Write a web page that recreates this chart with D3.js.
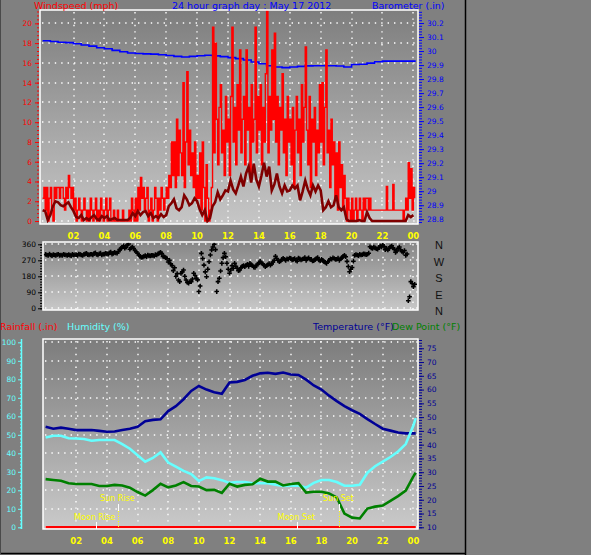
<!DOCTYPE html>
<html>
<head>
<meta charset="utf-8">
<script src="https://cdn.jsdelivr.net/npm/d3@7"></script>
<style>
  body { margin: 0; background: #808080; }
  svg { display: block; font-family: "DejaVu Sans", "Liberation Sans", Arial, sans-serif; }
</style>
</head>
<body>
<div class="chart"></div>
<script>
// Weather station 24 hour graph: wind, direction, temperature / humidity

// hour axis
var hourTicks = [2, 4, 6, 8, 10, 12, 14, 16, 18, 20, 22, 24];
var hourLabels = ["02", "04", "06", "08", "10", "12", "14", "16", "18", "20", "22", "00"];

// Wind gust (mph), one reading every 5 minutes from 00:00
var gustStep = 5 / 60;
var windGust = [
  2.3, 3.4, 1.1, 3.4, 0, 2.3, 3.4, 1.1, 0, 3.4, 2.3, 3.4,
  3.4, 2.3, 3.4, 3.4, 2.3, 1.1, 3.4, 2.3, 4.6, 3.4, 2.3, 3.4,
  1.1, 2.3, 0, 1.1, 2.3, 1.1, 0, 1.1, 2.3, 1.1, 0, 1.1,
  0, 2.3, 1.1, 0, 1.1, 2.3, 0, 1.1, 0, 2.3, 1.1, 0,
  1.1, 2.3, 0, 1.1, 2.3, 0, 0, 1.1, 0, 0, 1.1, 0,
  0, 0, 1.1, 0, 0, 0, 0, 1.1, 0, 2.3, 1.1, 0,
  2.3, 0, 3.4, 1.1, 4.4, 2.3, 3.4, 1.1, 2.3, 3.4, 0, 1.1,
  2.3, 0, 1.1, 3.4, 2.3, 0, 2.3, 1.1, 3.4, 2.3, 1.1, 2.3,
  3.4, 2.3, 4.6, 3.4, 8.0, 4.6, 8.0, 3.4, 10.3, 4.6, 9.2, 6.9,
  4.6, 14.0, 3.4, 8.0, 15.1, 5.7, 9.2, 4.6, 6.9, 3.4, 8.0, 2.3,
  4.6, 2.3, 6.9, 1.1, 8.0, 3.4, 0, 5.7, 2.3, 0, 1.1, 3.4,
  19.6, 6.9, 18.0, 10.3, 5.7, 11.5, 13.8, 6.9, 9.2, 4.6, 12.6, 8.0,
  10.3, 4.6, 12.6, 19.6, 8.0, 11.5, 5.7, 13.8, 9.2, 17.3, 6.9, 10.3,
  12.6, 5.7, 17.3, 9.2, 11.5, 4.6, 13.8, 8.0, 10.3, 19.6, 6.9, 12.6,
  9.2, 13.8, 5.7, 11.5, 8.0, 14.9, 21.3, 6.9, 12.6, 9.2, 17.3, 10.3,
  19.0, 8.0, 12.6, 5.7, 11.5, 9.2, 14.9, 6.9, 10.3, 4.6, 12.6, 8.0,
  10.3, 5.7, 11.5, 3.4, 9.2, 12.6, 6.9, 10.3, 4.6, 13.8, 8.0, 11.5,
  17.6, 9.2, 5.7, 12.6, 3.4, 10.3, 8.0, 11.5, 4.6, 9.2, 6.9, 13.8,
  8.0, 14.0, 5.7, 11.5, 17.3, 6.9, 9.2, 3.4, 10.3, 5.7, 8.0, 2.3,
  6.9, 1.1, 8.0, 3.4, 5.7, 1.1, 4.6, 2.3, 0, 2.3, 1.1, 0,
  2.3, 0, 1.1, 2.3, 0, 1.1, 2.3, 1.1, 0, 2.3, 1.1, 2.3,
  2.3, 1.1, 2.3, 1.1, 1.1, 1.1, 1.1, 1.1, 1.1, 1.1, 1.1, 1.1,
  1.1, 1.1, 1.1, 3.5, 1.1, 1.1, 1.1, 1.1, 3.7, 1.1, 1.1, 1.1,
  1.1, 1.1, 1.1, 1.1, 0, 1.1, 2.3, 1.1, 5.9, 2.3, 5.3, 1.1,
  3.4, 2.3
];

// Average wind speed (mph), every 10 minutes
var avgStep = 10 / 60;
var windAvg = [
  1.1, 1.0, 0.1, 0.6, 1.5, 2.0,
  1.9, 1.6, 1.5, 1.7, 1.9, 1.4,
  1.0, 0.4, 0.3, 0.6, 0.1, 0.3,
  0.1, 0.4, 0.6, 0.2, 0.1, 0.5,
  0.3, 0.5, 0.1, 0.2, 0.3, 0.1,
  0.1, 0.1, 0.1, 0.1, 0.3, 0.8,
  0.5, 1.0, 0.6, 0.9, 1.0, 0.5,
  0.8, 0.3, 0.5, 0.3, 0.7, 0.4,
  0.6, 1.5, 1.8, 2.2, 1.3, 1.1,
  1.4, 2.6, 2.2, 1.6, 1.8, 2.3,
  2.0, 1.2, 0.6, 1.1, 0.0, 0.3,
  1.5, 1.9, 2.9, 2.2, 2.6, 3.1,
  3.0, 4.1, 3.2, 2.8, 3.6, 4.5,
  3.5, 4.8, 5.5, 3.9, 5.8, 4.2,
  3.5, 4.6, 5.9, 4.5, 5.5, 3.1,
  3.7, 4.8, 3.5, 2.8, 3.6, 3.0,
  3.1, 3.6, 3.3, 3.6, 2.1, 3.0,
  4.1, 3.2, 2.6, 3.6, 3.0, 3.6,
  3.1, 1.1, 1.4, 2.0, 1.4, 1.6,
  2.6, 1.4, 1.1, 1.4, 0.2, 0.0,
  0.0, 0.0, 0.0, 0.1, 0.0, 0.0,
  0.9, 0.3, 0.0, 0.0, 0.0, 0.0,
  0.0, 0.0, 0.0, 0.0, 0.0, 0.0,
  0.0, 0.0, 0.0, 0.0, 0.6, 0.4,
  0.6
];

// Wind direction (degrees), every 5 minutes
var dirStep = 5 / 60;
var windDir = [
  303, 300, 298, 305, 300, 296, 302, 300, 298, 302, 304, 298,
  300, 297, 304, 301, 300, 298, 302, 299, 296, 303, 300, 301,
  301, 298, 305, 303, 300, 297, 303, 306, 309, 302, 300, 304,
  304, 300, 309, 312, 303, 300, 307, 310, 300, 304, 305, 309,
  308, 305, 312, 316, 305, 309, 315, 311, 310, 318, 330, 336,
  345, 352, 338, 344, 356, 362, 332, 340, 345, 336, 325, 318,
  310, 300, 292, 286, 288, 292, 296, 290, 300, 296, 295, 298,
  298, 294, 302, 300, 306, 310, 315, 308, 292, 290, 285, 280,
  260, 270, 250, 240, 212, 228, 180, 195, 159, 150, 196, 205,
  215, 180, 159, 145, 141, 150, 150, 165, 197, 185, 169, 160,
  94, 125, 309, 280, 243, 205, 178, 220, 262, 300, 328, 345,
  360, 330, 94, 150, 169, 210, 253, 285, 309, 290, 253, 220,
  197, 215, 240, 225, 253, 236, 225, 212, 215, 228, 236, 240,
  234, 242, 247, 236, 253, 245, 240, 232, 230, 240, 248, 255,
  264, 255, 250, 242, 234, 240, 245, 252, 243, 250, 260, 270,
  292, 280, 270, 262, 266, 275, 281, 276, 270, 278, 276, 283,
  281, 272, 275, 280, 270, 265, 283, 278, 272, 276, 279, 285,
  270, 278, 284, 276, 275, 266, 268, 274, 280, 285, 272, 266,
  276, 270, 262, 258, 253, 262, 270, 278, 276, 284, 280, 275,
  276, 282, 270, 278, 285, 292, 298, 290, 264, 235, 206, 220,
  230, 265, 298, 302, 300, 296, 304, 300, 302, 306, 305, 302,
  304, 310, 346, 340, 337, 344, 340, 335, 333, 342, 350, 345,
  356, 348, 330, 338, 328, 336, 346, 352, 340, 332, 315, 322,
  337, 345, 328, 320, 315, 325, 298, 305, 43, 65, 150, 140,
  121, 135
];
var compassLetters = ["N", "W", "S", "E", "N"];

// Half hourly readings
var halfHours = [0, 0.5, 1, 1.5, 2, 2.5, 3, 3.5, 4, 4.5, 5, 5.5, 6, 6.5, 7, 7.5, 8, 8.5, 9, 9.5,
  10, 10.5, 11, 11.5, 12, 12.5, 13, 13.5, 14, 14.5, 15, 15.5, 16, 16.5, 17, 17.5, 18, 18.5, 19, 19.5,
  20, 20.5, 21, 21.5, 22, 22.5, 23, 23.5, 24, 24.15];
var barometer = [30.074, 30.068, 30.063, 30.060, 30.052, 30.043, 30.035, 30.024, 30.016, 30.005,
  29.995, 29.986, 29.983, 29.980, 29.978, 29.974, 29.968, 29.962, 29.958, 29.962,
  29.967, 29.970, 29.966, 29.960, 29.953, 29.946, 29.936, 29.922, 29.909, 29.895,
  29.886, 29.882, 29.886, 29.891, 29.894, 29.895, 29.895, 29.895, 29.893, 29.886,
  29.904, 29.906, 29.914, 29.924, 29.928, 29.928, 29.928, 29.928, 29.928, 29.928];
var temperature = [46.5, 45.8, 46.2, 45.8, 45.3, 45.3, 45.3, 45.0, 44.7, 44.8,
  45.3, 45.8, 46.5, 48.5, 49.0, 49.2, 52.2, 54.0, 56.5, 59.5,
  61.3, 60.0, 59.0, 58.5, 62.6, 62.8, 63.5, 65.0, 65.9, 66.1,
  65.7, 66.2, 65.5, 65.3, 63.6, 61.5, 60.0, 57.8, 55.8, 54.0,
  52.5, 51.2, 49.3, 47.5, 45.8, 45.1, 44.4, 44.1, 44.1, 44.1];
var humidity = [48.6, 49.5, 49.5, 48.1, 48.0, 47.7, 46.8, 47.2, 47.2, 47.2,
  45.0, 42.5, 39.0, 35.5, 37.5, 40.5, 35.0, 32.8, 30.5, 28.8,
  25.0, 27.0, 26.5, 25.5, 24.0, 24.5, 24.5, 23.8, 23.8, 23.8,
  23.0, 22.3, 22.5, 22.5, 21.5, 24.0, 25.6, 25.6, 24.5, 22.5,
  22.5, 23.0, 29.5, 33.0, 35.5, 38.0, 41.0, 45.0, 55.0, 59.0];
var dewPoint = [27.5, 27.2, 26.9, 26.0, 25.7, 25.7, 25.7, 25.0, 25.0, 25.4,
  25.2, 24.4, 22.8, 21.5, 23.5, 25.8, 24.5, 25.2, 26.4, 25.0,
  24.8, 23.5, 23.6, 22.5, 25.8, 24.8, 25.4, 25.6, 27.6, 26.6,
  26.6, 25.2, 25.7, 26.0, 22.6, 22.9, 22.9, 22.3, 20.8, 15.0,
  13.5, 13.2, 16.8, 17.5, 17.9, 19.6, 21.3, 23.3, 28.5, 29.8];
var rainHours = [0, 24.15];
var rainfall = [0, 0];

// Sun and moon events
var eventNames = ["Moon Rise", "Sun Rise", "Moon Set", "Sun Set"];
var eventHours = [3.26, 4.74, 16.42, 19.16];
var eventKinds = ["moon", "sun", "moon", "sun"];

// axis tick values
var windTicks = [0, 2, 4, 6, 8, 10, 12, 14, 16, 18, 20];
var baroTicks = [28.8, 28.9, 29, 29.1, 29.2, 29.3, 29.4, 29.5, 29.6, 29.7, 29.8, 29.9, 30, 30.1, 30.2];
var dirTicks = [0, 90, 180, 270, 360];
var rainTicks = [0, 0.1, 0.2, 0.3, 0.4, 0.5, 0.6, 0.7, 0.8, 0.9, 1, 1.1, 1.2];
var humTicks = [0, 10, 20, 30, 40, 50, 60, 70, 80, 90, 100];
var tempTicks = [10, 15, 20, 25, 30, 35, 40, 45, 50, 55, 60, 65, 70, 75];

var svgWidth = 591;
var svgHeight = 555;

// plot boxes
var windBox = { left: 40, right: 418, top: 10, bottom: 224 };
var dirBox = { left: 43, right: 418, top: 242, bottom: 310 };
var tempBox = { left: 43, right: 418, top: 339, bottom: 529 };

var hourDomain = [-0.17, 24.3];

var svg = d3.select(".chart")
  .append("svg")
  .attr("width", svgWidth)
  .attr("height", svgHeight);

var defs = svg.append("defs");

function addGradient(id, c0, c1) {
  var g = defs.append("linearGradient")
    .attr("id", id)
    .attr("x1", 0).attr("y1", 0).attr("x2", 0).attr("y2", 1);
  g.append("stop").attr("offset", "0%").attr("stop-color", c0);
  g.append("stop").attr("offset", "100%").attr("stop-color", c1);
}

function addClip(id, box) {
  defs.append("clipPath").attr("id", id)
    .append("rect")
    .attr("x", box.left).attr("y", box.top)
    .attr("width", box.right - box.left).attr("height", box.bottom - box.top);
}

addGradient("g-wind", "#7e7e7e", "#c6c6c6");
addGradient("g-dir", "#868686", "#c8c8c8");
addGradient("g-temp", "#7c7c7c", "#cacaca");
addClip("c-wind", windBox);
addClip("c-dir", dirBox);
addClip("c-temp", tempBox);
defs.append("clipPath").attr("id", "c-rainaxis")
  .append("rect").attr("x", 0).attr("y", tempBox.top).attr("width", 45).attr("height", 220);

// scales
var windX = d3.scaleLinear().domain(hourDomain).range([windBox.left, windBox.right]);
var dirX = d3.scaleLinear().domain(hourDomain).range([dirBox.left, dirBox.right]);
var tempX = d3.scaleLinear().domain(hourDomain).range([tempBox.left, tempBox.right]);

var windY = d3.scaleLinear().domain([-0.3, 21.35]).range([windBox.bottom, windBox.top]);
var baroY = d3.scaleLinear().domain([28.766, 30.293]).range([windBox.bottom, windBox.top]);
var dirY = d3.scaleLinear().domain([-9.6, 373]).range([dirBox.bottom, dirBox.top]);
var rainY = d3.scaleLinear().domain([-0.0108, 1.1948]).range([tempBox.bottom, tempBox.top]);
var humY = d3.scaleLinear().domain([-0.92, 101.8]).range([tempBox.bottom, tempBox.top]);
var tempY = d3.scaleLinear().domain([9.38, 78.37]).range([tempBox.bottom, tempBox.top]);
// compass letters are spread evenly beside the direction panel
var compassY = d3.scalePoint().domain(d3.range(compassLetters.length)).range([245, 311]);

// background + dotted grid of one panel
function drawPanel(box, grad, xScale, yScale, yGrid) {
  var g = svg.append("g");
  g.append("rect")
    .attr("x", box.left).attr("y", box.top)
    .attr("width", box.right - box.left).attr("height", box.bottom - box.top)
    .attr("fill", "url(#" + grad + ")");
  g.selectAll(".hgrid")
    .data(yGrid)
    .enter()
    .append("line")
    .attr("x1", box.left + 2).attr("x2", box.right)
    .attr("y1", function(d) { return Math.round(yScale(d)); })
    .attr("y2", function(d) { return Math.round(yScale(d)); })
    .attr("stroke", "#fff").attr("stroke-width", 1.4)
    .attr("stroke-dasharray", "1.4,5");
  g.selectAll(".vgrid")
    .data(hourTicks)
    .enter()
    .append("line")
    .attr("x1", function(d) { return Math.round(xScale(d)); })
    .attr("x2", function(d) { return Math.round(xScale(d)); })
    .attr("y1", box.top + 2).attr("y2", box.bottom)
    .attr("stroke", "#fff").attr("stroke-width", 1.4)
    .attr("stroke-dasharray", "1.4,5");
  return g;
}

function drawBorder(box) {
  svg.append("rect")
    .attr("x", box.left).attr("y", box.top)
    .attr("width", box.right - box.left).attr("height", box.bottom - box.top)
    .attr("fill", "none").attr("stroke", "#fff").attr("stroke-width", 1.5);
}

// an axis with big and small ticks
function drawAxis(axisFn, scale, x, color, major, minor, size, pad, fontSize) {
  var g = svg.append("g")
    .attr("transform", "translate(" + x + ",0)")
    .attr("color", color);
  g.call(axisFn(scale).tickValues(minor).tickSize(size - 2).tickFormat(""));
  g.append("g").call(axisFn(scale).tickValues(major).tickSize(size).tickPadding(pad)
    .tickFormat(function(d) { return String(d); }));
  g.selectAll(".domain").remove();
  g.selectAll("text")
    .style("font-family", "DejaVu Sans, sans-serif")
    .style("font-size", fontSize + "px");
  return g;
}

// ---------------- top panel: wind speed and barometer ----------------
drawPanel(windBox, "g-wind", windX, windY, windTicks);

var windLayer = svg.append("g").attr("clip-path", "url(#c-wind)");

windLayer.append("path")
  .datum(barometer)
  .attr("fill", "none")
  .attr("stroke", "#0000ff")
  .attr("stroke-width", 1.6)
  .attr("d", d3.line()
    .curve(d3.curveStepAfter)
    .x(function(d, i) { return windX(halfHours[i]); })
    .y(function(d) { return baroY(d); }));

windLayer.append("path")
  .datum(windGust)
  .attr("fill", "none")
  .attr("stroke", "#ff0000")
  .attr("stroke-width", 1.4)
  .attr("d", d3.line()
    .curve(d3.curveStepAfter)
    .x(function(d, i) { return windX(i * gustStep); })
    .y(function(d) { return windY(d); }));

windLayer.append("path")
  .datum(windAvg)
  .attr("fill", "none")
  .attr("stroke", "#800000")
  .attr("stroke-width", 2.6)
  .attr("d", d3.line()
    .x(function(d, i) { return windX(i * avgStep); })
    .y(function(d) { return windY(d); }));

drawBorder(windBox);

drawAxis(d3.axisLeft, windY, windBox.left - 1, "#ff0000", windTicks,
  d3.range(0, 21.3, 0.4), 4, 3, 7.5);
drawAxis(d3.axisRight, baroY, windBox.right + 1, "#0000ff", baroTicks,
  d3.range(28.78, 30.29, 0.02), 5, 3, 7.5);

// hour labels between the top panels
svg.append("g")
  .selectAll("text")
  .data(hourTicks)
  .enter()
  .append("text")
  .attr("x", function(d) { return windX(d); })
  .attr("y", 238.5)
  .attr("text-anchor", "middle")
  .attr("fill", "#ffff00")
  .style("font-size", "8.5px")
  .style("font-weight", "bold")
  .text(function(d, i) { return hourLabels[i]; });

// ---------------- middle panel: wind direction ----------------
drawPanel(dirBox, "g-dir", dirX, dirY, dirTicks);

svg.append("g")
  .attr("clip-path", "url(#c-dir)")
  .selectAll("path")
  .data(windDir)
  .enter()
  .append("path")
  .attr("transform", function(d, i) {
    return "translate(" + dirX(i * dirStep) + "," + dirY(d) + ")";
  })
  .attr("d", d3.symbol().type(d3.symbolCross).size(12))
  .attr("fill", "#000");

drawBorder(dirBox);

drawAxis(d3.axisLeft, dirY, dirBox.left - 1, "#000", dirTicks,
  d3.range(0, 361, 15), 4, 2, 7.5);

svg.append("g")
  .selectAll("text")
  .data(compassLetters)
  .enter()
  .append("text")
  .attr("x", 439)
  .attr("y", function(d, i) { return compassY(i) + 4; })
  .attr("text-anchor", "middle")
  .attr("fill", "#101010")
  .style("font-family", "Liberation Sans, Arial, sans-serif")
  .style("font-size", "11px")
  .text(function(d) { return d; });

// ---------------- bottom panel: temperature, humidity, dew point, rain ----------------
drawPanel(tempBox, "g-temp", tempX, humY, humTicks);

var tempLayer = svg.append("g").attr("clip-path", "url(#c-temp)");

function seriesLine(yScale) {
  return d3.line()
    .x(function(d, i) { return tempX(halfHours[i]); })
    .y(function(d) { return yScale(d); });
}

tempLayer.append("path")
  .datum(temperature)
  .attr("fill", "none").attr("stroke", "#000096").attr("stroke-width", 2.6)
  .attr("d", seriesLine(tempY));

tempLayer.append("path")
  .datum(humidity)
  .attr("fill", "none").attr("stroke", "#66ffff").attr("stroke-width", 2.6)
  .attr("d", seriesLine(humY));

tempLayer.append("path")
  .datum(dewPoint)
  .attr("fill", "none").attr("stroke", "#008000").attr("stroke-width", 2.6)
  .attr("d", seriesLine(tempY));

tempLayer.append("path")
  .datum(rainfall)
  .attr("fill", "none").attr("stroke", "#ff0000").attr("stroke-width", 2.4)
  .attr("d", d3.line()
    .x(function(d, i) { return tempX(rainHours[i]); })
    .y(function(d) { return rainY(d); }));

// sun / moon markers
var events = tempLayer.selectAll(".event")
  .data(eventNames)
  .enter()
  .append("g")
  .attr("class", "event");

events.append("line")
  .attr("x1", function(d, i) { return Math.round(tempX(eventHours[i])) + 0.5; })
  .attr("x2", function(d, i) { return Math.round(tempX(eventHours[i])) + 0.5; })
  .attr("y1", function(d, i) { return eventKinds[i] === "sun" ? 511 : 523; })
  .attr("y2", tempBox.bottom)
  .attr("stroke", "#ffff00").attr("stroke-width", 1)
  .attr("stroke-dasharray", "1,1.5");

events.append("line")
  .attr("x1", function(d, i) { return Math.round(tempX(eventHours[i])) + 0.5; })
  .attr("x2", function(d, i) { return Math.round(tempX(eventHours[i])) + 0.5; })
  .attr("y1", function(d, i) { return eventKinds[i] === "sun" ? 504 : 522; })
  .attr("y2", function(d, i) { return eventKinds[i] === "sun" ? 511 : tempBox.bottom; })
  .attr("stroke", "#ffffff").attr("stroke-width", 1);

events.append("text")
  .attr("x", function(d, i) { return tempX(eventHours[i]) - 1; })
  .attr("y", function(d, i) { return eventKinds[i] === "sun" ? 501 : 520; })
  .attr("text-anchor", "middle")
  .attr("fill", "#ffff00")
  .style("font-size", "8px")
  .text(function(d) { return d; });

drawBorder(tempBox);

drawAxis(d3.axisLeft, rainY, tempBox.left - 1, "#ff0000", rainTicks,
  d3.range(0, 1.2, 0.02), 4, 3, 7.5).attr("clip-path", "url(#c-rainaxis)");

// humidity axis sits on its own line further left
svg.append("line")
  .attr("x1", 21.5).attr("x2", 21.5)
  .attr("y1", tempBox.top).attr("y2", tempBox.bottom)
  .attr("stroke", "#66ffff").attr("stroke-width", 1.5);
drawAxis(d3.axisLeft, humY, 22, "#66ffff", humTicks,
  d3.range(0, 101, 2), 4, 2, 7.5);

drawAxis(d3.axisRight, tempY, tempBox.right + 1, "#000096", tempTicks,
  d3.range(10, 79, 1), 5, 3, 7.5);

svg.append("g")
  .selectAll("text")
  .data(hourTicks)
  .enter()
  .append("text")
  .attr("x", function(d) { return tempX(d); })
  .attr("y", 544)
  .attr("text-anchor", "middle")
  .attr("fill", "#ffff00")
  .style("font-size", "8.5px")
  .style("font-weight", "bold")
  .text(function(d, i) { return hourLabels[i]; });

// ---------------- titles ----------------
var titles = [
  { text: "Windspeed (mph)", x: 34, y: 9, color: "#ff0000" },
  { text: "24 hour graph day : May 17 2012", x: 172, y: 9, color: "#0000ff" },
  { text: "Barometer (.in)", x: 372, y: 9, color: "#0000ff" },
  { text: "Rainfall (.in)", x: 0, y: 330, color: "#ff0000" },
  { text: "Humidity (%)", x: 67, y: 330, color: "#66ffff" },
  { text: "Temperature (°F)", x: 313, y: 330, color: "#000096" },
  { text: "Dew Point (°F)", x: 392, y: 330, color: "#008000" }
];
svg.append("g")
  .selectAll("text")
  .data(titles)
  .enter()
  .append("text")
  .attr("x", function(d) { return d.x; })
  .attr("y", function(d) { return d.y; })
  .attr("fill", function(d) { return d.color; })
  .style("font-size", "9.5px")
  .text(function(d) { return d.text; });

// outer frame lines
svg.append("line").attr("x1", 465.5).attr("x2", 465.5).attr("y1", 0).attr("y2", svgHeight)
  .attr("stroke", "#000").attr("stroke-width", 1.5);
svg.append("line").attr("x1", 0).attr("x2", 466).attr("y1", 553.5).attr("y2", 553.5)
  .attr("stroke", "#000").attr("stroke-width", 1.5);
svg.append("line").attr("x1", 0.5).attr("x2", 0.5).attr("y1", 0).attr("y2", 554)
  .attr("stroke", "#4a4a4a").attr("stroke-width", 1);
</script>
</body>
</html>
